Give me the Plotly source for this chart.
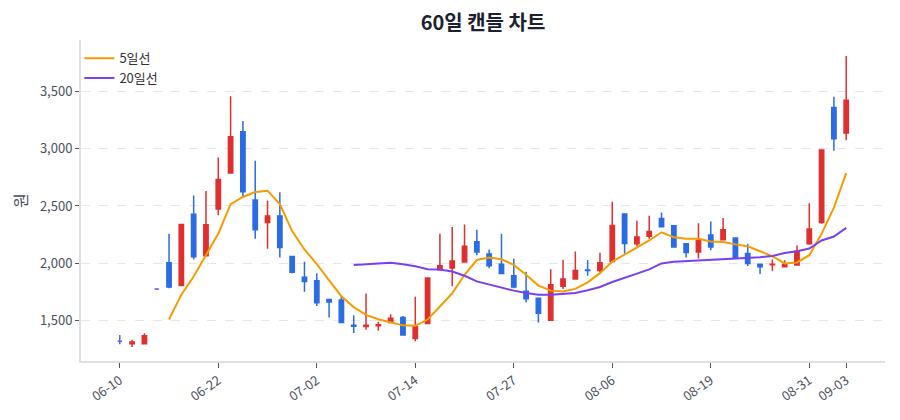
import plotly.graph_objects as go

# 60 trading days
dates = ["06-10", "06-11", "06-12", "06-15", "06-16", "06-17", "06-18", "06-19", "06-22",
         "06-23", "06-24", "06-25", "06-26", "06-29", "06-30", "07-01", "07-02",
         "07-03", "07-06", "07-07", "07-08", "07-09", "07-10", "07-13", "07-14",
         "07-15", "07-16", "07-17", "07-20", "07-21", "07-22", "07-23", "07-27",
         "07-28", "07-29", "07-30", "07-31", "08-03", "08-04", "08-05", "08-06",
         "08-07", "08-10", "08-11", "08-12", "08-13", "08-14", "08-18", "08-19",
         "08-20", "08-21", "08-24", "08-25", "08-26", "08-27", "08-28", "08-31",
         "09-01", "09-02", "09-03"]

open_ = [1315, 1295, 1293, 1773, 2004, 1805, 2427, 2064, 2473, 2789,
         3149, 2553, 2355, 2412, 2058, 1877, 1845, 1681, 1676, 1456,
         1445, 1452, 1480, 1523, 1341, 1471, 1941, 1958, 2010, 2186,
         2079, 1990, 1889, 1754, 1693, 1500, 1797, 1860, 1940, 1935,
         2013, 2430, 2170, 2236, 2391, 2328, 2170, 2098, 2247, 2204,
         2219, 2083, 1991, 1985, 1968, 1983, 2170, 2356, 3362, 3138]
high = [1370, 1330, 1385, 1780, 2257, 2337, 2591, 2631, 2925, 3460,
        3244, 2896, 2545, 2620, 2058, 2012, 1912, 1681, 1704, 1543,
        1733, 1486, 1552, 1537, 1705, 1869, 2258, 2316, 2339, 2293,
        2120, 2258, 2039, 1924, 1693, 1947, 2030, 2102, 2027, 2091,
        2537, 2437, 2371, 2414, 2443, 2328, 2170, 2348, 2365, 2394,
        2219, 2170, 1991, 2032, 2026, 2155, 2523, 2989, 3457, 3814]
low = [1290, 1265, 1290, 1765, 1779, 1805, 2032, 2064, 2418, 2789,
       2582, 2214, 2125, 2050, 1912, 1750, 1624, 1523, 1478, 1388,
       1417, 1408, 1480, 1365, 1316, 1471, 1941, 1797, 2010, 2068,
       1955, 1909, 1780, 1658, 1480, 1500, 1774, 1860, 1889, 1918,
       2013, 2083, 2147, 2213, 2313, 2135, 2049, 2040, 2112, 2204,
       2040, 1974, 1905, 1934, 1963, 1977, 2161, 2345, 2983, 3075]
close = [1315, 1310, 1365, 1773, 1791, 2337, 2055, 2335, 2732, 3106,
         2625, 2291, 2412, 2136, 1920, 1840, 1653, 1660, 1480, 1448,
         1455, 1460, 1517, 1370, 1442, 1869, 1976, 2019, 2148, 2097,
         1976, 1909, 1791, 1687, 1561, 1811, 1860, 1935, 1935, 2004,
         2330, 2172, 2229, 2276, 2319, 2141, 2092, 2198, 2141, 2293,
         2046, 1997, 1968, 1991, 1991, 2104, 2299, 2989, 3089, 3426]

# moving averages (5-day starts at day 5, 20-day at day 20)
ma5 = [None] * 4 + [
    1506, 1724, 1883, 2070, 2257, 2516, 2579, 2622, 2634, 2516,
    2280, 2119, 1992, 1848, 1710, 1615, 1546, 1509, 1480, 1455,
    1451, 1506, 1620, 1736, 1898, 2027, 2048, 2033, 1984, 1898,
    1803, 1759, 1751, 1774, 1831, 1912, 2013, 2074, 2139, 2198,
    2270, 2227, 2213, 2213, 2190, 2184, 2164, 2147, 2104, 2060,
    1997, 2006, 2069, 2256, 2486, 2788]
ma20 = [None] * 19 + [
    1984, 1990, 1996, 2003, 1990, 1972, 1947, 1944, 1927, 1889,
    1840, 1811, 1788, 1759, 1739, 1722, 1722, 1728, 1739, 1762,
    1791, 1834, 1868, 1908, 1945, 1997, 2012, 2017, 2023, 2026,
    2035, 2040, 2046, 2052, 2063, 2089, 2104, 2127, 2198, 2233,
    2308]

tick_idx = [0, 8, 16, 24, 32, 40, 48, 56, 59]

RED = "#e02f2f"
BLUE = "#2b6be3"
FLAT = "#5d5df2"

flat = [i for i in range(len(dates)) if open_[i] == close[i]]
norm = [i for i in range(len(dates)) if open_[i] != close[i]]

fig = go.Figure()
fig.add_trace(go.Candlestick(
    x=[dates[i] for i in norm],
    open=[open_[i] for i in norm], high=[high[i] for i in norm],
    low=[low[i] for i in norm], close=[close[i] for i in norm],
    increasing=dict(line=dict(color=RED, width=1.5), fillcolor=RED),
    decreasing=dict(line=dict(color=BLUE, width=1.5), fillcolor=BLUE),
    showlegend=False, name="캔들"))
fig.add_trace(go.Candlestick(
    x=[dates[i] for i in flat],
    open=[open_[i] for i in flat], high=[high[i] for i in flat],
    low=[low[i] for i in flat], close=[close[i] for i in flat],
    increasing=dict(line=dict(color=FLAT, width=1.5), fillcolor=FLAT),
    decreasing=dict(line=dict(color=FLAT, width=1.5), fillcolor=FLAT),
    showlegend=False, name="캔들"))
fig.add_trace(go.Scatter(x=dates, y=ma5, mode="lines", name="5일선",
                         line=dict(color="#f59c00", width=2)))
fig.add_trace(go.Scatter(x=dates, y=ma20, mode="lines", name="20일선",
                         line=dict(color="#7a3ff0", width=2)))

# page body has an 8px margin, so the figure is sized to fit inside the window
fig.update_layout(
    width=884, height=404,
    margin=dict(l=68, r=7, t=32, b=46),
    paper_bgcolor="white", plot_bgcolor="white",
    boxgap=0.5,
    font=dict(family="Noto Sans CJK KR", size=13, color="#4a4f5c"),
    title=dict(text="<b>60일 캔들 차트</b>", xref="paper", x=0.5, xanchor="center",
               y=0.962, yanchor="middle", font=dict(size=20, color="#1b2130")),
    legend=dict(x=-0.002, y=0.99, xanchor="left", yanchor="top",
                bgcolor="rgba(255,255,255,0)", font=dict(size=13, color="#333")),
    xaxis=dict(type="category", categoryorder="array", categoryarray=dates,
               range=[-3.15, 62.15], rangeslider=dict(visible=False),
               tickvals=[dates[i] for i in tick_idx], ticktext=[dates[i] for i in tick_idx],
               tickangle=-35, ticks="outside", ticklen=5, tickcolor="#555",
               showgrid=False, showline=True, linecolor="#dde0e5", linewidth=2,
               zeroline=False),
    yaxis=dict(range=[1143, 3953], tickvals=[1500, 2000, 2500, 3000, 3500],
               tickformat=",", ticks="outside", ticklen=4, tickcolor="#555",
               showgrid=True, gridcolor="#e6e6e6", griddash="dash",
               showline=True, linecolor="#dde0e5", linewidth=2, zeroline=False,
               title=dict(text="원", standoff=14)),
)

fig.write_html("out.html")
